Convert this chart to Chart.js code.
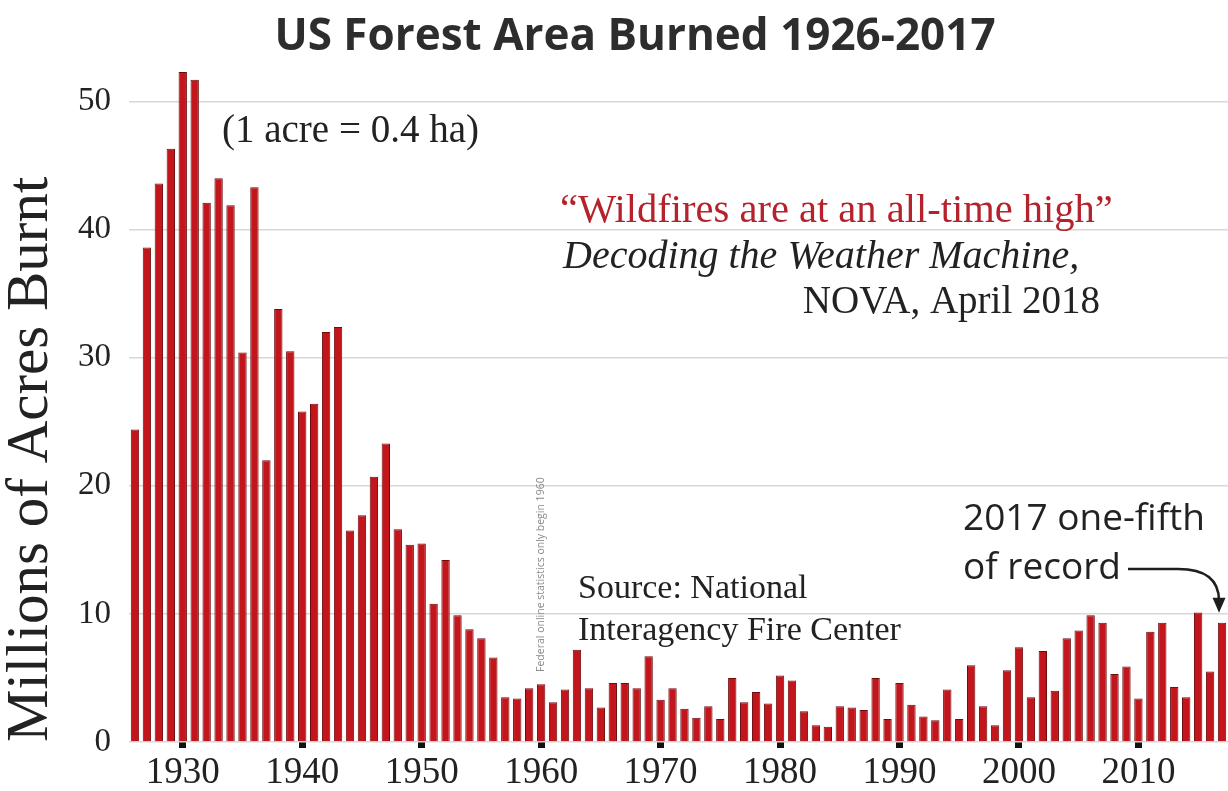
<!DOCTYPE html>
<html>
<head>
<meta charset="utf-8">
<title>US Forest Area Burned 1926-2017</title>
<script src="https://cdn.jsdelivr.net/npm/chart.js@4.4.1/dist/chart.umd.min.js"></script>
<style>
  html, body { margin: 0; padding: 0; background: #fff; }
  #wrap { width: 1228px; height: 791px; position: relative; }
</style>
</head>
<body>
<div id="wrap"><canvas id="fireChart"></canvas></div>
<script>
// values, millions of acres, one per year
const firstYear = 1926;
const acresBurnt = [
  24.4, 38.6, 43.6, 46.3,                                   // 1926-29
  52.3, 51.7, 42.1, 44.0, 41.9, 30.4, 43.3, 22.0, 33.8, 30.5, // 1930s
  25.8, 26.4, 32.0, 32.4, 16.5, 17.7, 20.7, 23.3, 16.6, 15.4, // 1940s
  15.5, 10.8, 14.2, 9.9, 8.8, 8.1, 6.6, 3.5, 3.4, 4.2,        // 1950s
  4.5, 3.1, 4.1, 7.2, 4.2, 2.7, 4.6, 4.6, 4.2, 6.7,           // 1960s
  3.3, 4.2, 2.6, 1.9, 2.8, 1.8, 5.0, 3.1, 3.9, 3.0,           // 1970s
  5.2, 4.8, 2.4, 1.3, 1.2, 2.8, 2.7, 2.5, 5.0, 1.8,           // 1980s
  4.6, 2.9, 2.0, 1.7, 4.1, 1.8, 6.0, 2.8, 1.3, 5.6,           // 1990s
  7.4, 3.5, 7.1, 4.0, 8.1, 8.7, 9.9, 9.3, 5.3, 5.9,           // 2000s
  3.4, 8.6, 9.3, 4.3, 3.5, 10.1, 5.5, 9.3                     // 2010-17
];
const years = acresBurnt.map((_, i) => String(firstYear + i));
const decadeTicks = ['1930', '1940', '1950', '1960', '1970', '1980', '1990', '2000', '2010'];
const yTicks = [0, 10, 20, 30, 40, 50];

const SERIF = '"Liberation Serif", "Times New Roman", serif';
const SANS = '"Open Sans", sans-serif';

// title, text notes and the arrow pointing at 2017
const notesPlugin = {
  id: 'notes',
  afterDraw(chart) {
    const { ctx, scales: { x, y } } = chart;
    ctx.save();
    ctx.textBaseline = 'alphabetic';

    ctx.fillStyle = '#2d2d2d';
    ctx.font = `bold 44px ${SANS}`;
    ctx.textAlign = 'center';
    ctx.fillText('US Forest Area Burned 1926-2017', 635, 50);
    ctx.textAlign = 'left';

    ctx.fillStyle = '#222';
    ctx.font = `39px ${SERIF}`;
    ctx.fillText('(1 acre = 0.4 ha)', 222, 142);

    ctx.fillStyle = '#b5222b';
    ctx.font = `40.5px ${SERIF}`;
    ctx.fillText('\u201CWildfires are at an all-time high\u201D', 560, 222);

    ctx.fillStyle = '#222';
    ctx.font = `italic 40px ${SERIF}`;
    ctx.fillText('Decoding the Weather Machine,', 563, 268);

    ctx.font = `39px ${SERIF}`;
    ctx.textAlign = 'right';
    ctx.fillText('NOVA, April 2018', 1100, 313);
    ctx.textAlign = 'left';

    ctx.font = `34px ${SERIF}`;
    ctx.fillText('Source: National', 578, 598);
    ctx.fillText('Interagency Fire Center', 578, 640);

    ctx.font = `37px ${SANS}`;
    ctx.fillText('2017 one-fifth', 963, 530);
    ctx.fillText('of record', 963, 579);

    // tiny rotated note on the 1960 line
    const x1960 = x.getPixelForValue(years.indexOf('1960'));
    ctx.save();
    ctx.translate(x1960 + 3, 672);
    ctx.rotate(-Math.PI / 2);
    ctx.fillStyle = '#8a8a8a';
    ctx.font = `10.5px ${SANS}`;
    ctx.fillText('Federal online statistics only begin 1960', 0, 0);
    ctx.restore();

    // arrow
    const last = acresBurnt.length - 1;
    const tipX = x.getPixelForValue(last) - 3;
    const tipY = y.getPixelForValue(acresBurnt[last]) - 10;
    ctx.strokeStyle = '#1e1e1e';
    ctx.fillStyle = '#1e1e1e';
    ctx.lineWidth = 2.5;
    ctx.beginPath();
    ctx.moveTo(1128, 569);
    ctx.lineTo(1178, 569);
    ctx.quadraticCurveTo(tipX, 569, tipX, tipY - 12);
    ctx.stroke();
    ctx.beginPath();
    ctx.moveTo(tipX, tipY);
    ctx.lineTo(tipX - 6.5, tipY - 15);
    ctx.lineTo(tipX + 6.5, tipY - 15);
    ctx.closePath();
    ctx.fill();

    ctx.restore();
  }
};

new Chart(document.getElementById('fireChart'), {
  type: 'bar',
  data: {
    labels: years,
    datasets: [{
      data: acresBurnt,
      backgroundColor: '#c3161c',
      borderColor: '#6e0c0f',
      borderWidth: 1,
      barPercentage: 0.7,
      categoryPercentage: 1.0
    }]
  },
  options: {
    responsive: true,
    maintainAspectRatio: false,
    animation: false,
    layout: { padding: { top: 63 } },
    plugins: {
      legend: { display: false },
      tooltip: { enabled: false },
      title: { display: false }
    },
    scales: {
      x: {
        offset: true,
        afterFit: (scale) => { scale.height = 49; },
        border: { display: false },
        grid: {
          offset: false,
          drawOnChartArea: false,
          drawTicks: true,
          tickLength: 6,
          tickWidth: 7,
          tickColor: (c) => decadeTicks.includes(years[c.index]) ? '#111' : 'rgba(0,0,0,0)'
        },
        ticks: {
          autoSkip: false,
          maxRotation: 0,
          minRotation: 0,
          padding: 3,
          color: '#222',
          font: { family: SERIF, size: 37 },
          callback: (val, i) => decadeTicks.includes(years[i]) ? years[i] : ''
        }
      },
      y: {
        min: 0,
        max: 53,
        afterFit: (scale) => { scale.width = 129; },
        afterBuildTicks: (scale) => { scale.ticks = yTicks.map(v => ({ value: v })); },
        border: { display: false },
        grid: { color: '#d8d8d8', lineWidth: 1.5, drawTicks: false },
        ticks: {
          padding: 18,
          color: '#222',
          font: { family: SERIF, size: 33 }
        },
        title: {
          display: true,
          text: 'Millions of Acres Burnt',
          align: 'start',
          color: '#222',
          font: { family: SERIF, size: 59, lineHeight: 1 },
          padding: { top: 2, bottom: 0 }
        }
      }
    }
  },
  plugins: [notesPlugin]
});
</script>
</body>
</html>
